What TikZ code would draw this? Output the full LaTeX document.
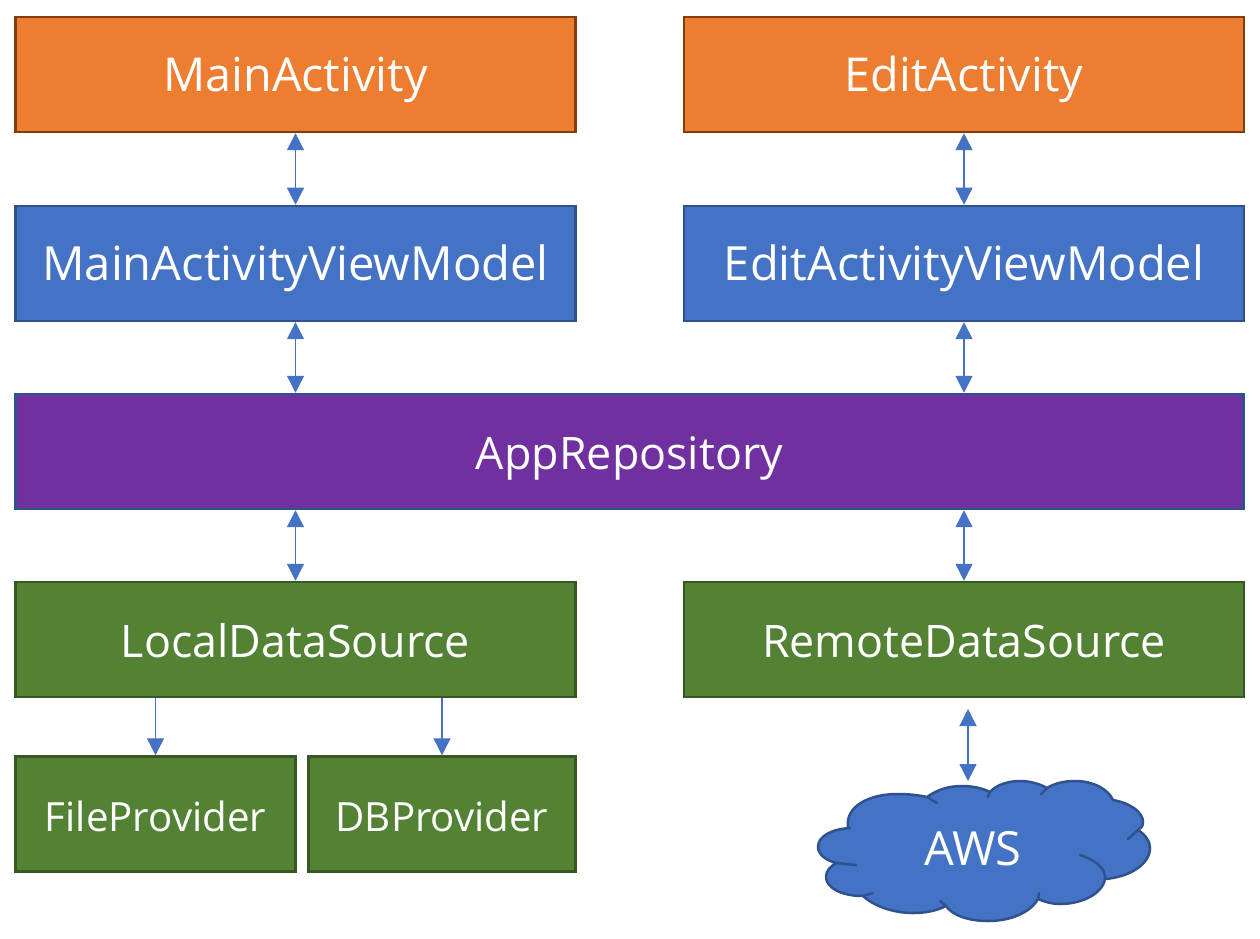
\documentclass[tikz,border=0pt]{standalone}
\usepackage{fontspec}
\setmainfont{Open Sans}
\usepackage{tikz}
\usetikzlibrary{arrows.meta,positioning}
\definecolor{boxorange}{RGB}{237,125,49}
\definecolor{lineorange}{RGB}{132,60,12}
\definecolor{boxblue}{RGB}{68,114,196}
\definecolor{lineblue}{RGB}{47,82,143}
\definecolor{boxpurple}{RGB}{112,48,160}
\definecolor{boxgreen}{RGB}{84,130,53}
\definecolor{linegreen}{RGB}{56,87,35}

\begin{document}
\begin{tikzpicture}[
  x=0.02cm, y=-0.02cm,
  font=\fontsize{25.5}{30}\selectfont, node distance=1.43cm,
  block/.style={draw=#1, line width=0.05cm, text=white, minimum height=2.3cm, minimum width=11.2cm, inner sep=0pt, text height=0.7cm, text depth=0pt},
  activity/.style={block=lineorange, fill=boxorange, font=\fontsize{26.6}{30}\selectfont},
  viewmodel/.style={block=lineblue, fill=boxblue, font=\fontsize{26.8}{30}\selectfont},
  source/.style={block=linegreen, fill=boxgreen},
  provider/.style={source, font=\fontsize{22.9}{27}\selectfont},
  both/.style={{Triangle[length=0.34cm,width=0.34cm]}-{Triangle[length=0.34cm,width=0.34cm]}, line width=0.026cm, boxblue},
  down/.style={-{Triangle[length=0.34cm,width=0.34cm]}, line width=0.026cm, boxblue},
  cloudline/.style={line width=0.05cm, lineblue, line join=round}
]
  \useasboundingbox (0,0) rectangle (1260,939);

  \node[activity]                          (main)   at (295.5,74.5) {MainActivity};
  \node[activity]                          (edit)   at (964,74.5)   {EditActivity};
  \node[viewmodel, below=of main]          (mainvm) {MainActivityViewModel};
  \node[viewmodel, below=of edit]          (editvm) {EditActivityViewModel};
  \node[block=lineblue, fill=boxpurple, minimum width=24.56cm] (repo) at (629.5,451.5) {AppRepository};
  \node[source]                            (local)  at (295.5,639.5) {LocalDataSource};
  \node[source]                            (remote) at (964,639.5)   {RemoteDataSource};
  \node[provider, minimum width=5.6cm]     (file)   at (155.5,814)   {FileProvider};
  \node[provider, minimum width=5.35cm]    (db)     at (442,814)     {DBProvider};

  % cloud outline, the short strokes go out and back along the same line
  \filldraw[cloudline, fill=boxblue]
    (848,827) .. controls (845,806) and (870,794) .. (897,794)
    .. controls (908,794) and (918,795) .. (927,797) -- (937,803) -- (927,797)
    .. controls (938,789) and (950,786) .. (962,786)
    .. controls (972,786) and (982,788) .. (990,792) -- (988,797) -- (990,792)
    .. controls (996,785) and (1008,781) .. (1020,781)
    .. controls (1030,781) and (1040,784) .. (1047,788) -- (1041,794) -- (1047,788)
    .. controls (1055,783) and (1065,781) .. (1075,781)
    .. controls (1093,781) and (1108,789) .. (1113,800)
    .. controls (1130,803) and (1143,812) .. (1143,822)
    .. controls (1143,826) and (1141,829) .. (1138,830) -- (1128,839) -- (1138,830)
    .. controls (1146,835) and (1150,842) .. (1150,848)
    .. controls (1150,864) and (1130,877) .. (1105,879)
    .. controls (1106,868) and (1095,860) .. (1080,855)
    .. controls (1095,860) and (1106,868) .. (1105,879)
    .. controls (1102,895) and (1080,904) .. (1060,904)
    .. controls (1052,904) and (1045,902) .. (1038,899) -- (1039,893) -- (1038,899)
    .. controls (1030,913) and (1010,921) .. (988,921)
    .. controls (968,921) and (952,915) .. (946,906) -- (940,901) -- (946,906)
    .. controls (936,911) and (925,913) .. (913,913)
    .. controls (893,913) and (874,906) .. (863,896) -- (873,893) -- (863,896)
    .. controls (840,896) and (826,887) .. (826,877)
    .. controls (826,871) and (830,866) .. (837,863) -- (856,865) -- (837,863)
    .. controls (826,861) and (818,854) .. (818,847)
    .. controls (818,836) and (832,829) .. (850,828)
    -- cycle;
  \node[text=white, font=\fontsize{26.8}{30}\selectfont] (aws) at (973,849) {AWS};

  \coordinate (awstop) at (968,709);
  \coordinate (awsbot) at (968,781);

  \draw[both] (main)--(mainvm);
  \draw[both] (edit)--(editvm);
  \draw[both] (mainvm.south)--(mainvm.south |- repo.north);
  \draw[both] (editvm.south)--(editvm.south |- repo.north);
  \draw[both] (local.north |- repo.south)--(local.north);
  \draw[both] (remote.north |- repo.south)--(remote.north);
  \draw[down] (file.north |- local.south)--(file.north);
  \draw[down] (db.north |- local.south)--(db.north);
  \draw[both] (awstop)--(awsbot);
\end{tikzpicture}
\end{document}
